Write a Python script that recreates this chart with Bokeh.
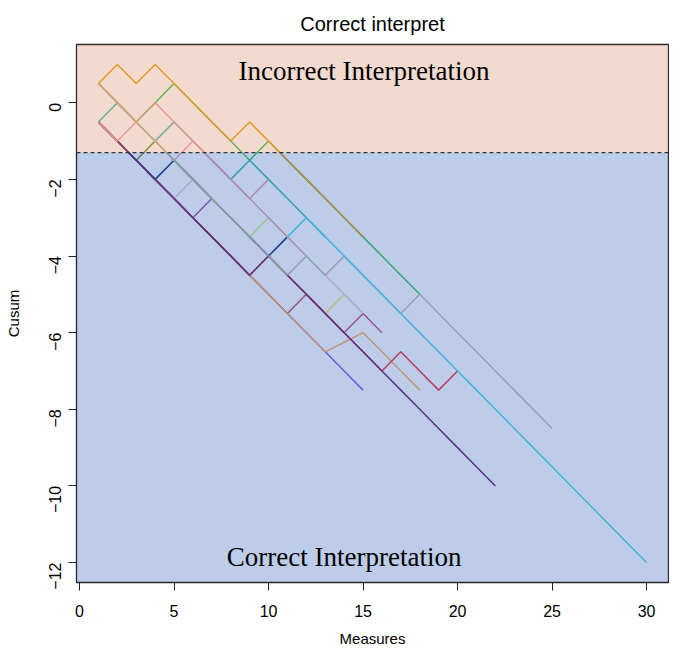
import math
from bokeh.plotting import figure
from bokeh.models import Range1d, BoxAnnotation, Span, Label, FixedTicker
from bokeh.embed import file_html
from bokeh.resources import INLINE

# ---- data (cusum paths, measures start at 1) ----
y_slateblue = [-0.5, -1, -1.5, -2, -2.5, -3, -3.5, -4, -4.5, -5, -5.5, -6, -6.5, -7, -7.5]
y_yellow = [-0.5, -1, -1.5, -2, -2.5, -3, -3.5, -4, -4.5, -5, -5.5, -5, -5.5, -5, -5.5]
y_mauve = [-0.5, -1, -1.5, -2, -2.5, -3, -3.5, -4, -4.5, -5, -5.5, -5, -5.5, -6, -5.5, -6]
y_tan = [-0.5, -1, -1.5, -2, -2.5, -3, -3.5, -4, -4.5, -5, -5.5, -6, -6.5, -6.25, -6, -6.5, -7, -7.5]
y_red = [-0.5, -1, -1.5, -2, -2.5, -3, -3.5, -4, -4.5, -4, -4.5, -5, -5.5, -6, -6.5, -7, -6.5, -7, -7.5, -7]
y_olive = [-0.5, -1, -1.5, -1, -1.5, -2, -2.5]
y_purple = [-0.5, -1, -1.5, -2, -2.5, -3, -2.5, -3, -3.5]
y_lavender = [-0.5, -1, -1.5, -2, -2.5, -2, -2.5, -3, -3.5, -4, -4.5, -4, -4.5, -5, -5.5]
y_green = [0.5, 0, -0.5, 0, 0.5, 0, -0.5, -1, -1.5, -1, -1.5, -2, -2.5, -3, -3.5, -4, -4.5, -5]
y_orange = [0.5, 1, 0.5, 1, 0.5, 0, -0.5, -1, -0.5, -1, -1.5, -2, -2.5, -3, -3.5]
y_grey = [0.5, 0, -0.5, -1, -1.5, -2, -2.5, -3, -3.5, -4, -4.5, -4, -4.5, -4, -4.5, -5, -5.5,
          -5, -5.5, -6, -6.5, -7, -7.5, -8, -8.5]
y_teal = [-0.5, 0, -0.5, -1, -0.5, -1, -1.5, -2, -1.5, -2, -2.5, -3, -3.5]
y_cyan = [-0.5, -1, -1.5, -2, -1.5, -2, -2.5, -3, -3.5, -4, -3.5, -3, -3.5, -4, -4.5, -5, -5.5,
          -6, -6.5, -7, -7.5, -8, -8.5, -9, -9.5, -10, -10.5, -11, -11.5, -12]
y_darkblue = [-0.5, -1, -1.5, -2, -1.5, -2, -2.5, -3, -3.5, -4, -3.5]
y_darkpurple = [-0.5, -1, -1.5, -2, -2.5, -3, -3.5, -4, -4.5, -4, -4.5, -5, -5.5, -6, -6.5, -7,
                -7.5, -8, -8.5, -9, -9.5, -10]
y_pink = [-0.5, -1, -0.5, -1, -1.5, -1, -1.5, -2, -2.5, -2]
y_lightgreen = [0.5, 0, -0.5, -1, -1.5, -2, -2.5, -3, -3.5, -3, -3.5]
y_grey2 = [0.5, 0, -0.5, -1, -1.5, -2, -2.5, -3, -3.5, -4, -4.5]
y_pink2 = [0.5, 0, -0.5, 0, -0.5, -1, -1.5, -2, -2.5, -3, -3.5, -4]
y_khaki = [0.5, 0, -0.5, 0]

series = [
    (y_slateblue, "#7F62F4"), (y_yellow, "#F1EA5D"), (y_mauve, "#C65488"),
    (y_tan, "#FFB15D"), (y_red, "#F8303A"), (y_olive, "#6B8E23"),
    (y_purple, "#AA4DA5"), (y_lavender, "#EACDD7"), (y_green, "#3CC850"),
    (y_orange, "#EBA014"), (y_grey, "#C6BCB3"), (y_teal, "#3CBEA0"),
    (y_cyan, "#4FD8EC"), (y_darkblue, "#303088"), (y_darkpurple, "#6E1F69"),
    (y_pink, "#ECA0B0"), (y_lightgreen, "#C6F888"), (y_grey2, "#C2B799"),
    (y_pink2, "#ECA0B0"), (y_khaki, "#C9B38B"),
]

threshold = -1.3
x_ticks = [0, 5, 10, 15, 20, 25, 30]
y_ticks = [-12, -10, -8, -6, -4, -2, 0]

p = figure(width=669, height=649, output_backend="svg", toolbar_location=None,
           x_range=Range1d(-0.16, 31.16), y_range=Range1d(-12.52, 1.52),
           min_border_left=76, min_border_right=1, min_border_top=44, min_border_bottom=64,
           title="Correct interpret")
p.grid.visible = False
p.outline_line_color = "#222222"
p.outline_line_width = 1.3

p.title.align = "center"
p.title.text_font = "Liberation Sans"
p.title.text_font_size = "20px"
p.title.text_font_style = "normal"
p.title.text_color = "black"
p.title.standoff = 20

for ax in (p.xaxis, p.yaxis):
    ax.minor_tick_line_color = None
    ax.major_tick_in = 0
    ax.major_tick_out = 8
    ax.major_tick_line_color = "#222222"
    ax.axis_line_color = "#222222"
    ax.major_label_text_font = "Liberation Sans"
    ax.major_label_text_font_size = "16px"
    ax.major_label_text_color = "black"
    ax.axis_label_text_font = "Liberation Sans"
    ax.axis_label_text_font_size = "15px"
    ax.axis_label_text_font_style = "normal"
    ax.axis_label_text_color = "black"

p.xaxis.ticker = FixedTicker(ticks=x_ticks)
p.yaxis.ticker = FixedTicker(ticks=y_ticks)
p.xaxis.axis_label = "Measures"
p.yaxis.axis_label = "Cusum"
p.yaxis.major_label_orientation = math.pi / 2
p.xaxis.major_label_standoff = 14
p.yaxis.major_label_standoff = 13
p.xaxis.axis_label_standoff = 10
p.yaxis.axis_label_standoff = 19

for ys, col in series:
    xs = list(range(1, len(ys) + 1))
    p.line(xs, ys, line_color=col, line_width=1.5)

p.add_layout(BoxAnnotation(bottom=threshold, fill_color="#D7845C", fill_alpha=0.3,
                           line_color=None))
p.add_layout(BoxAnnotation(top=threshold, fill_color="#2658B6", fill_alpha=0.3,
                           line_color=None))
p.add_layout(Span(location=threshold, dimension="width", line_color="#333333",
                  line_width=1.3, line_dash="4 3"))

p.add_layout(Label(x=15.05, y=0.84, text="Incorrect Interpretation", text_align="center",
                   text_baseline="middle", text_font="Liberation Serif",
                   text_font_size="27px", text_color="black"))
p.add_layout(Label(x=14.0, y=-11.85, text="Correct Interpretation", text_align="center",
                   text_baseline="middle", text_font="Liberation Serif",
                   text_font_size="27px", text_color="black"))

open("out.html", "w").write(file_html(p, INLINE))
